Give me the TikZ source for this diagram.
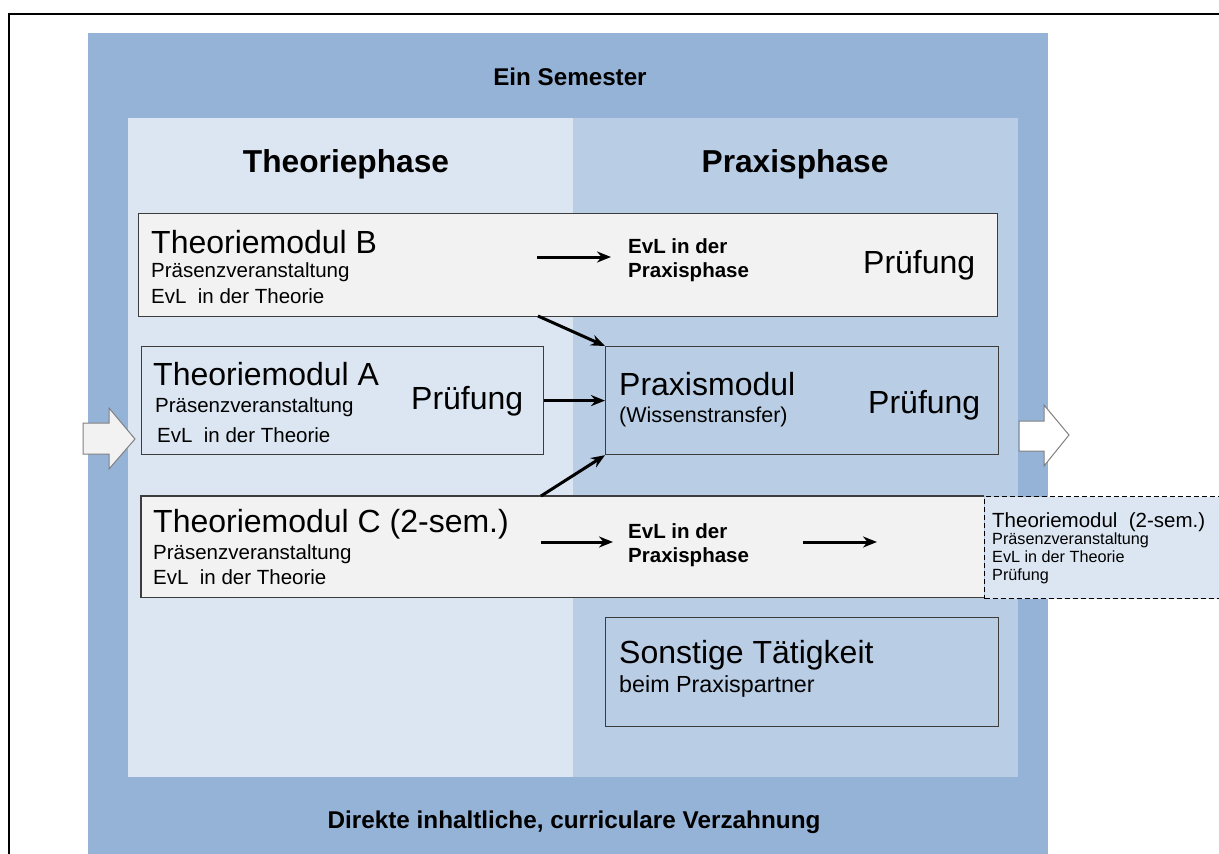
\documentclass[tikz,border=0pt]{standalone}
\usepackage{fontspec}
\setmainfont{Liberation Sans}
\usetikzlibrary{arrows.meta}
\definecolor{semblue}{RGB}{149,179,215}
\definecolor{theoblue}{RGB}{220,230,242}
\definecolor{praxblue}{RGB}{185,205,229}
\definecolor{boxgray}{RGB}{242,242,242}
\definecolor{edgegray}{RGB}{60,60,60}

\begin{document}
\begin{tikzpicture}[x=1pt,y=-1pt,
      modbox/.style={draw=edgegray,line width=1.2pt,inner sep=0pt,anchor=north west,fill=#1},
      modbox/.default=boxgray,
      txt/.style={inner sep=0pt,anchor=base west,font=\fontsize{#1}{#1}\selectfont},
      txt/.default=20.5,
      big/.style={txt=32},
      evl/.style={inner sep=0pt,anchor=west,align=left,font=\bfseries\fontsize{20.5}{24}\selectfont},
      head/.style={inner sep=0pt,anchor=base,font=\bfseries\fontsize{#1}{#1}\selectfont},
      head/.default=31.7,
      flow/.style={line width=3pt,-{Stealth[length=14pt,width=11pt]}},
      blockarrow/.style={draw=gray,line width=1pt,fill=#1},
      blockarrow/.default=white]
    \useasboundingbox (0,0) rectangle (1219,854);
    \draw[line width=1.6pt] (9,870) -- (9,14) -- (1230,14);
    \fill[semblue] (88,33) rectangle (1048,870);
    \fill[theoblue] (128,118) rectangle (573,777);
    \fill[praxblue] (573,118) rectangle (1018,777);
    \node[head=24.2] (semester) at (570,85) {Ein Semester};
    \node[head] (theorie) at (346,172) {Theoriephase};
    \node[head] (praxisph) at (795,172) {Praxisphase};
    \node[head=24.3] (verzahn) at (574,828) {Direkte inhaltliche, curriculare Verzahnung};
    \node[modbox,minimum width=859,minimum height=103] (modB) at (138,213) {};
    \node[modbox=theoblue,minimum width=402,minimum height=108] (modA) at (141,346) {};
    \node[modbox=praxblue,minimum width=393,minimum height=108] (praxis) at (605,346) {};
    \node[inner sep=0pt,anchor=north west,fill=boxgray,minimum width=843,minimum height=101] (modC) at (141,496) {};
    \draw[edgegray,line width=1.2pt] (modC.north east) -- (modC.north west) -- (modC.south west) -- (modC.south east);
    \node[inner sep=0pt,anchor=north west,fill=theoblue,draw,dash pattern=on 5pt off 3pt,line width=1.1pt,minimum width=260,minimum height=102] (nextsem) at (984,496) {};
    \node[modbox=praxblue,minimum width=393,minimum height=109] (sonst) at (605,617) {};
    \node[big] (titleB) at (151,253) {Theoriemodul B};
    \node[txt] (presB) at (151,277) {Präsenzveranstaltung};
    \node[txt] (evlthB) at (151,303) {EvL\ \ in der Theorie};
    \node[evl] (evlB) at (628,260) {EvL in der\\Praxisphase};
    \node[big] (examB) at (863,273) {Prüfung};
    \node[big] (titleA) at (153,385) {Theoriemodul A};
    \node[txt] (presA) at (155,412) {Präsenzveranstaltung};
    \node[txt] (evlthA) at (157,442) {EvL\ \ in der Theorie};
    \node[big] (examA) at (411,409) {Prüfung};
    \node[big] (titleP) at (619,395) {Praxismodul};
    \node[txt=21.5] (wissen) at (619,422) {(Wissenstransfer)};
    \node[big] (examP) at (868,413) {Prüfung};
    \node[big] (titleC) at (153,532) {Theoriemodul C (2-sem.)};
    \node[txt] (presC) at (153,559) {Präsenzveranstaltung};
    \node[txt] (evlthC) at (153,584) {EvL\ \ in der Theorie};
    \node[evl] (evlC) at (628,545) {EvL in der\\Praxisphase};
    \node[txt=20.5] (titleN) at (992,527) {Theoriemodul\ \ (2-sem.)};
    \node[txt=16.2] (presN) at (992,544) {Präsenzveranstaltung};
    \node[txt=16.2] (evlthN) at (992,562) {EvL in der Theorie};
    \node[txt=16.2] (examN) at (992,580) {Prüfung};
    \node[big] (titleS) at (619,663) {Sonstige Tätigkeit};
    \node[txt=23.3] (partner) at (619,692) {beim Praxispartner};
    \coordinate (bfrom) at (537,257);
    \coordinate (bto) at (611,257);
    \coordinate (bout) at (538,316);
    \coordinate (cout) at (541,496);
    \coordinate (cfrom) at (541,542);
    \coordinate (cto) at (613,542);
    \coordinate (cnext) at (803,542);
    \coordinate (cend) at (877,542);
    \draw[flow] (bfrom) -- (bto);
    \draw[flow] (cfrom) -- (cto);
    \draw[flow] (cnext) -- (cend);
    \draw[flow] (bout) -- (praxis.north west);
    \draw[flow] (modA.east) -- (praxis.west);
    \draw[flow] (cout) -- (praxis.south west);
    \draw[blockarrow=boxgray] (83,423) -- (109,423) -- (109,408) -- (135,439) -- (109,469) -- (109,454) -- (83,454) -- cycle;
    \draw[blockarrow] (1019,421) -- (1044,421) -- (1044,405) -- (1069,435) -- (1044,466) -- (1044,451) -- (1019,451) -- cycle;
    \end{tikzpicture}
\end{document}
